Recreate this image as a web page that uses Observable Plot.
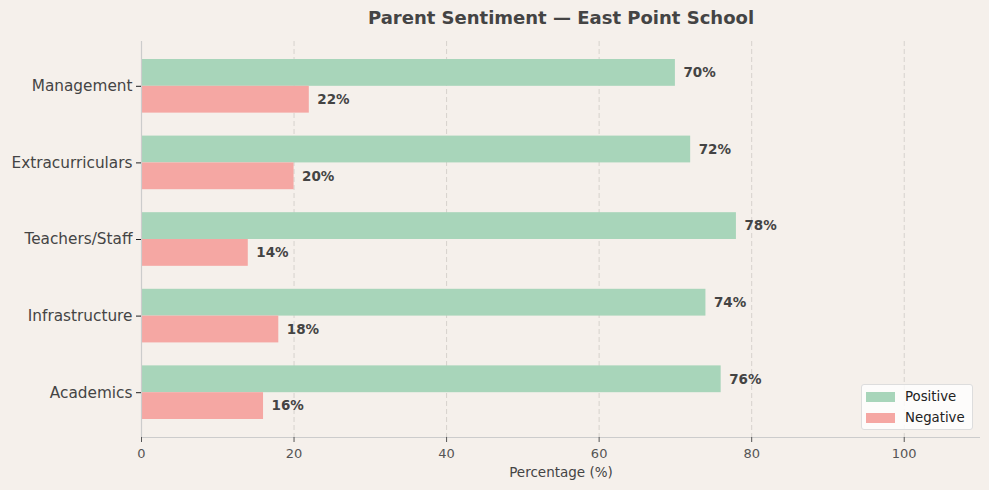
<!DOCTYPE html>
<html>
<head>
<meta charset="utf-8">
<script src="https://cdn.jsdelivr.net/npm/d3@7"></script>
<script src="https://cdn.jsdelivr.net/npm/@observablehq/plot@0.6"></script>
<style>
  html, body { margin: 0; padding: 0; background: #f5f0eb; }
  #wrap { position: relative; width: 989px; height: 490px; font-family: "DejaVu Sans", sans-serif; }
  #legend { position: absolute; left: 861px; top: 384px; width: 112px; height: 46px;
    background: rgba(255,255,255,0.8); border: 1px solid #ddd; border-radius: 3px; box-sizing: border-box; }
  .li { position: absolute; left: 4px; display: flex; align-items: center; font-size: 13.3px; color: #222; }
  .sw { width: 29px; height: 10px; margin-right: 10px; }
</style>
</head>
<body>
<div id="wrap"><div id="legend"></div></div>
<script>
const categories = ["Academics", "Infrastructure", "Teachers/Staff", "Extracurriculars", "Management"];
const positive = [76, 74, 78, 72, 70];
const negative = [16, 18, 14, 20, 22];
const seriesNames = ["Positive", "Negative"];
const seriesColors = ["#a8d5ba", "#f5a7a3"];
const xTicks = [0, 20, 40, 60, 80, 100];

const rows = [];
categories.forEach((c, i) => {
  rows.push({cat: c, series: "Positive", value: positive[i], y1: i, y2: i + 0.35});
  rows.push({cat: c, series: "Negative", value: negative[i], y1: i - 0.35, y2: i});
});

const chart = Plot.plot({
  width: 989, height: 490,
  marginTop: 41, marginBottom: 53, marginLeft: 141, marginRight: 9,
  style: {background: "#f5f0eb", fontFamily: "DejaVu Sans, sans-serif", overflow: "visible"},
  x: {domain: [0, 110]},
  y: {domain: [-0.585, 4.585]},
  color: {domain: seriesNames, range: seriesColors},
  marks: [
    Plot.ruleX(xTicks.slice(1), {stroke: "#d6d2cd", strokeWidth: 1, strokeDasharray: "5,3"}),
    Plot.rectX(rows, {x1: 0, x2: "value", y1: "y1", y2: "y2", fill: "series"}),
    Plot.text(rows, {x: "value", y: d => (d.y1 + d.y2) / 2, text: d => d.value + "%", textAnchor: "start", dx: 8,
      fontWeight: "bold", fontSize: 13.5, fill: "#444"}),
    Plot.ruleX([0], {stroke: "#cccccc", strokeWidth: 1.2}),
    Plot.ruleY([-0.585], {stroke: "#cccccc", strokeWidth: 1.2}),
    Plot.axisX({ticks: xTicks, tickSize: 5, tickPadding: 6, fontSize: 13, color: "#555", stroke: "#555", label: null}),
    Plot.axisY({ticks: [0, 1, 2, 3, 4], tickFormat: i => categories[i], tickSize: 5, tickPadding: 4,
      fontSize: 15.3, color: "#444", stroke: "#222", label: null}),
    Plot.text(["Parent Sentiment — East Point School"], {frameAnchor: "top", dy: -23, fontSize: 18,
      fontWeight: "bold", fill: "#444", lineAnchor: "middle"}),
    Plot.text(["Percentage (%)"], {frameAnchor: "bottom", dy: 35, fontSize: 13.5, fill: "#444", lineAnchor: "middle"})
  ]
});
document.getElementById("wrap").prepend(chart);

const legend = document.getElementById("legend");
seriesNames.forEach((s, i) => {
  const item = document.createElement("div");
  item.className = "li";
  item.style.top = (4 + i * 21) + "px";
  item.innerHTML = `<div class="sw" style="background:${seriesColors[i]}"></div><span>${s}</span>`;
  legend.appendChild(item);
});
</script>
</body>
</html>
